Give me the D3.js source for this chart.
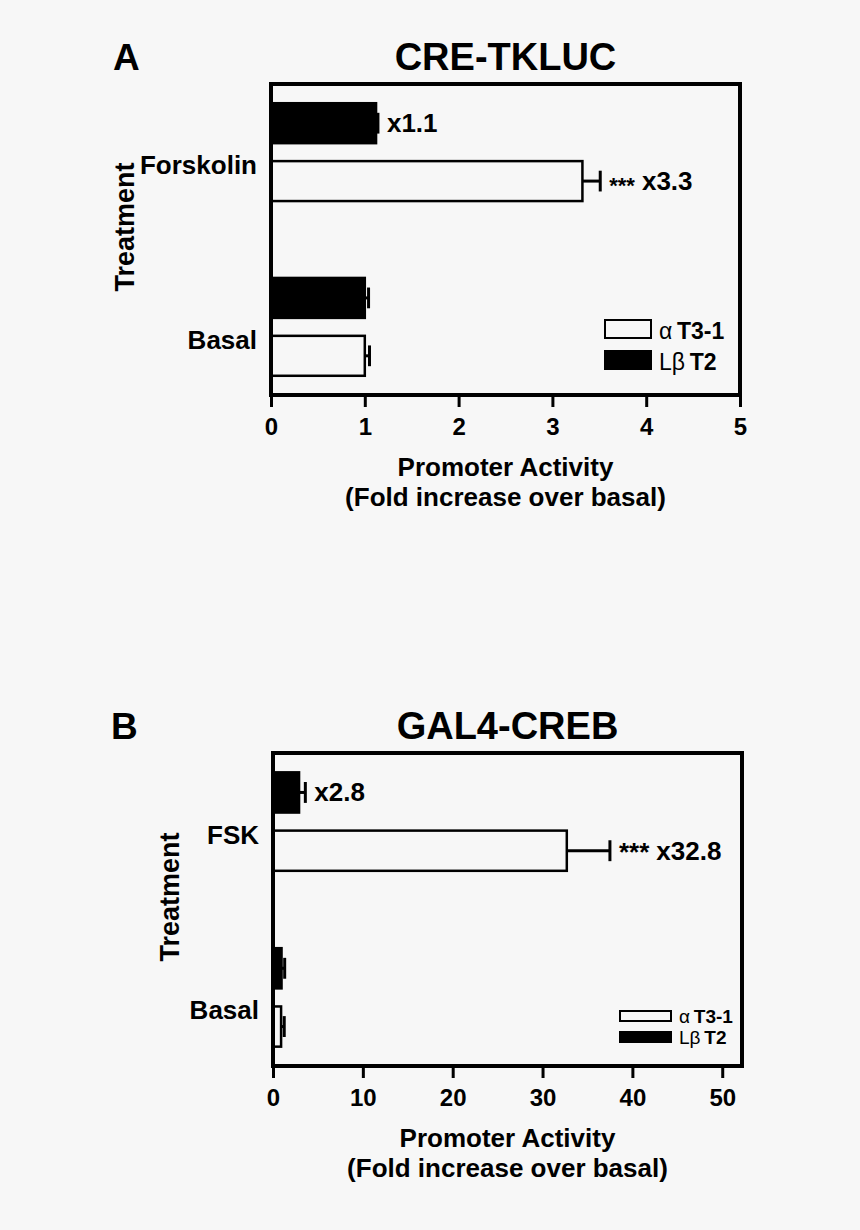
<!DOCTYPE html>
<html>
<head>
<meta charset="utf-8">
<script src="https://cdn.jsdelivr.net/npm/d3@7"></script>
<style>
  html, body { margin: 0; padding: 0; background: #f7f7f7; }
  svg { display: block; }
  text { font-family: "Liberation Sans", Arial, Helvetica, sans-serif; font-weight: bold; fill: #000; }
</style>
</head>
<body>
<svg id="chart" width="860" height="1230"></svg>
<script>
// ---------- DATA ----------
const seriesNames = ["LβT2", "αT3-1"];          // order within each treatment group (top to bottom)

const treatmentsA = ["Forskolin", "Basal"];
const valuesA_LbT2 = [1.12, 1.0];
const errorsA_LbT2 = [0.02, 0.04];
const valuesA_aT3 = [3.32, 1.0];
const errorsA_aT3 = [0.19, 0.05];
const ticksA = [0, 1, 2, 3, 4, 5];
const annotA = [
  { cat: "Forskolin", series: "LβT2", stars: "", fold: "x1.1" },
  { cat: "Forskolin", series: "αT3-1", stars: "***", fold: "x3.3" }
];

const treatmentsB = ["FSK", "Basal"];
const valuesB_LbT2 = [2.9, 0.95];
const errorsB_LbT2 = [0.7, 0.35];
const valuesB_aT3 = [32.7, 0.9];
const errorsB_aT3 = [4.8, 0.35];
const ticksB = [0, 10, 20, 30, 40, 50];
const annotB = [
  { cat: "FSK", series: "LβT2", stars: "", fold: "x2.8" },
  { cat: "FSK", series: "αT3-1", stars: "***", fold: "x32.8" }
];

const legendLabels = [
  { series: "αT3-1", greek: "α", rest: "T3-1" },
  { series: "LβT2", greek: "Lβ", rest: "T2" }
];

const xTitle1 = "Promoter Activity";
const xTitle2 = "(Fold increase over basal)";
const yTitle = "Treatment";

// ---------- DRAW ----------
const svg = d3.select("#chart");
svg.append("rect").attr("width", 860).attr("height", 1230).attr("fill", "#f7f7f7");

const fillFor = { "LβT2": "#000", "αT3-1": "#f7f7f7" };

function drawPanel(cfg) {
  const g = svg.append("g");
  const x = d3.scaleLinear().domain(cfg.xDomain).range([cfg.left, cfg.right]);
  const y0 = d3.scaleBand().domain(cfg.treatments).range([cfg.top, cfg.bottom])
    .paddingInner(0.44).paddingOuter(0.11);
  const y1 = d3.scaleBand().domain(seriesNames).range([0, y0.bandwidth()]).paddingInner(0.31);

  const rows = [];
  cfg.treatments.forEach((t, i) => {
    rows.push({ cat: t, series: "LβT2", v: cfg.vL[i], e: cfg.eL[i] });
    rows.push({ cat: t, series: "αT3-1", v: cfg.vA[i], e: cfg.eA[i] });
  });

  // bars
  g.selectAll("rect.bar").data(rows).enter().append("rect")
    .attr("class", "bar")
    .attr("x", x(0))
    .attr("y", d => y0(d.cat) + y1(d.series))
    .attr("width", d => x(d.v) - x(0))
    .attr("height", y1.bandwidth())
    .attr("fill", d => fillFor[d.series])
    .attr("stroke", "#000")
    .attr("stroke-width", 2.5);

  // error bars
  rows.forEach(d => {
    const cy = y0(d.cat) + y1(d.series) + y1.bandwidth() / 2;
    const cap = y1.bandwidth() * 0.26;
    g.append("line").attr("x1", x(d.v)).attr("x2", x(d.v + d.e))
      .attr("y1", cy).attr("y2", cy).attr("stroke", "#000").attr("stroke-width", 3);
    g.append("line").attr("x1", x(d.v + d.e)).attr("x2", x(d.v + d.e))
      .attr("y1", cy - cap).attr("y2", cy + cap).attr("stroke", "#000").attr("stroke-width", 3);
  });

  // annotations
  cfg.annot.forEach(a => {
    const d = rows.find(r => r.cat === a.cat && r.series === a.series);
    const cy = y0(d.cat) + y1(d.series) + y1.bandwidth() / 2;
    let xs = x(d.v + d.e) + 9;
    if (a.stars) {
      const st = g.append("text").attr("x", xs).attr("y", cy + cfg.starDy)
        .attr("font-size", cfg.starSize).attr("dominant-baseline", "central").text(a.stars);
      xs = xs + st.node().getComputedTextLength() + 7;
    }
    g.append("text").attr("x", xs).attr("y", cy)
      .attr("font-size", 26).attr("dominant-baseline", "central").text(a.fold);
  });

  // frame
  g.append("rect").attr("x", cfg.left).attr("y", cfg.top)
    .attr("width", cfg.right - cfg.left).attr("height", cfg.bottom - cfg.top)
    .attr("fill", "none").attr("stroke", "#000").attr("stroke-width", 4);

  // x axis
  const ax = g.append("g").attr("transform", `translate(0,${cfg.bottom})`)
    .call(d3.axisBottom(x).tickValues(cfg.ticks).tickFormat(d3.format("d"))
      .tickSize(12).tickSizeOuter(0).tickPadding(11));
  ax.select(".domain").remove();
  ax.selectAll(".tick line").attr("stroke", "#000").attr("stroke-width", 3);
  ax.selectAll(".tick text").attr("font-size", 24).attr("fill", "#000")
    .style("font-family", '"Liberation Sans", Arial, sans-serif').style("font-weight", "bold");

  // category labels
  g.selectAll("text.cat").data(cfg.treatments).enter().append("text")
    .attr("class", "cat")
    .attr("x", cfg.left - 14)
    .attr("y", t => y0(t) + y0.bandwidth() / 2 + 13)
    .attr("text-anchor", "end").attr("dominant-baseline", "central")
    .attr("font-size", 26).text(t => t);

  // axis titles
  const cx = (cfg.left + cfg.right) / 2;
  g.append("text").attr("x", cx).attr("y", cfg.bottom + 81).attr("text-anchor", "middle")
    .attr("font-size", 26).text(xTitle1);
  g.append("text").attr("x", cx).attr("y", cfg.bottom + 111).attr("text-anchor", "middle")
    .attr("font-size", 26).text(xTitle2);
  g.append("text").attr("transform", `translate(${cfg.yTitleX},${cfg.yTitleY}) rotate(-90)`)
    .attr("text-anchor", "middle").attr("dominant-baseline", "central")
    .attr("font-size", 27).text(yTitle);

  // title & panel letter
  g.append("text").attr("x", cx).attr("y", cfg.top - 14).attr("text-anchor", "middle")
    .attr("font-size", 38).text(cfg.title);
  g.append("text").attr("x", cfg.letterX).attr("y", cfg.top - 14)
    .attr("font-size", 37).text(cfg.letter);

  // legend
  const L = cfg.legend;
  legendLabels.forEach((l, i) => {
    const ly = L.y + i * L.step;
    g.append("rect").attr("x", L.x).attr("y", ly).attr("width", L.w).attr("height", L.h)
      .attr("fill", fillFor[l.series]).attr("stroke", "#000").attr("stroke-width", 2);
    const t = g.append("text").attr("x", L.x + L.w + 8).attr("y", ly + L.h + L.ty)
      .attr("font-size", L.fs);
    t.append("tspan").style("font-weight", "normal").text(l.greek);
    t.append("tspan").attr("dx", L.fs * 0.2).text(l.rest);
  });
}

drawPanel({
  treatments: treatmentsA, vL: valuesA_LbT2, eL: errorsA_LbT2, vA: valuesA_aT3, eA: errorsA_aT3,
  ticks: ticksA, annot: annotA, xDomain: [0, 5],
  left: 271, right: 740, top: 84, bottom: 395,
  title: "CRE-TKLUC", letter: "A", letterX: 113,
  yTitleX: 125, yTitleY: 227,
  starSize: 22, starDy: 4,
  legend: { x: 605, y: 320, w: 46, h: 18, step: 31, fs: 23, ty: 1 }
});

drawPanel({
  treatments: treatmentsB, vL: valuesB_LbT2, eL: errorsB_LbT2, vA: valuesB_aT3, eA: errorsB_aT3,
  ticks: ticksB, annot: annotB, xDomain: [0, 52.2],
  left: 273, right: 742, top: 753, bottom: 1066,
  title: "GAL4-CREB", letter: "B", letterX: 111,
  yTitleX: 170, yTitleY: 897,
  starSize: 26, starDy: 1,
  legend: { x: 620, y: 1011, w: 51, h: 10, step: 21, fs: 19, ty: 2 }
});
</script>
</body>
</html>
